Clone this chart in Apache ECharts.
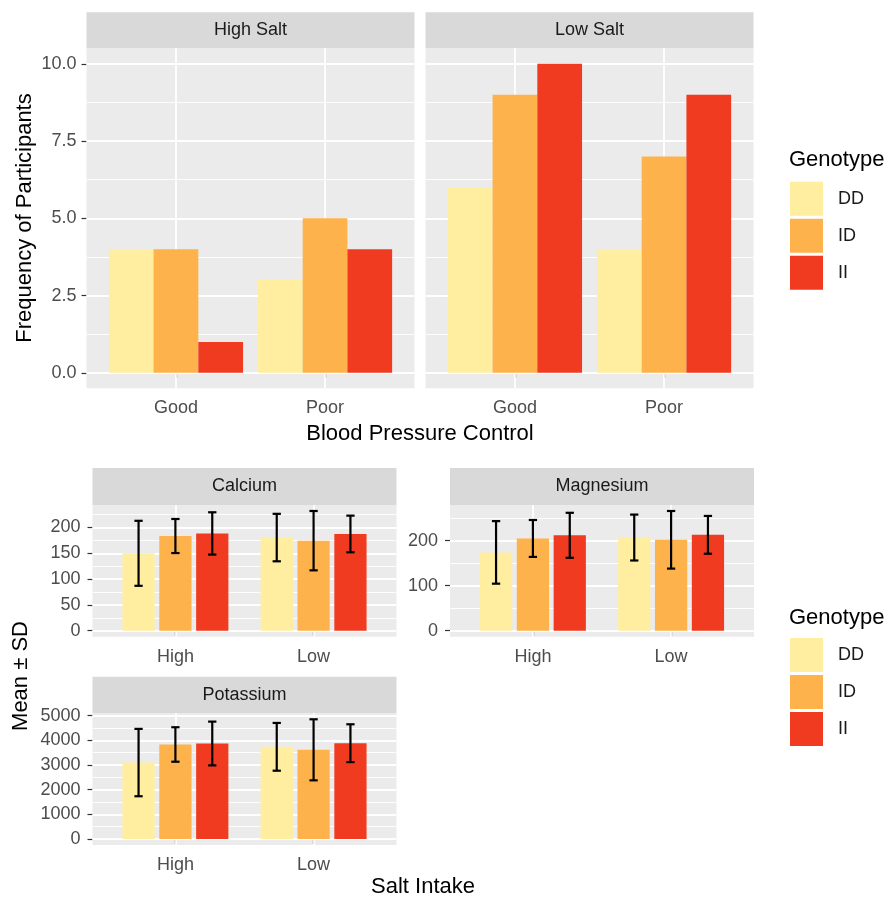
<!DOCTYPE html>
<html><head><meta charset="utf-8">
<script src="https://cdn.jsdelivr.net/npm/echarts@6/dist/echarts.min.js"></script>
<style>html,body{margin:0;padding:0;background:#fff}#c{width:894px;height:902px}</style>
</head><body><div id="c"></div>
<script>
// ---------- DATA ----------
const genotypes = ['DD', 'ID', 'II'];
const genoColors = ['#FFEDA0', '#FEB24C', '#F03B20'];

const bpCategories = ['Good', 'Poor'];
const highSaltDD = [4, 3];
const highSaltID = [4, 5];
const highSaltII = [1, 4];
const lowSaltDD = [6, 4];
const lowSaltID = [9, 7];
const lowSaltII = [10, 9];
const freqTicks = [0, 2.5, 5, 7.5, 10];
const freqMinor = [1.25, 3.75, 6.25, 8.75];

const saltCategories = ['High', 'Low'];
const calciumMeanDD = [150, 180.5];
const calciumMeanID = [183.5, 174.5];
const calciumMeanII = [188.5, 187.5];
const calciumSdDD = [63, 46];
const calciumSdID = [33, 57.5];
const calciumSdII = [41, 35.5];
const calciumTicks = [0, 50, 100, 150, 200];
const calciumMinor = [25, 75, 125, 175, 225];

const magnesiumMeanDD = [174, 207];
const magnesiumMeanID = [205, 202];
const magnesiumMeanII = [212, 213];
const magnesiumSdDD = [69.5, 51];
const magnesiumSdID = [41, 64];
const magnesiumSdII = [50, 42];
const magnesiumTicks = [0, 100, 200];
const magnesiumMinor = [50, 150, 250];

const potassiumMeanDD = [3098, 3736];
const potassiumMeanID = [3831, 3615];
const potassiumMeanII = [3871, 3884];
const potassiumSdDD = [1365, 968];
const potassiumSdID = [699, 1237];
const potassiumSdII = [887, 766];
const potassiumTicks = [0, 1000, 2000, 3000, 4000, 5000];
const potassiumMinor = [500, 1500, 2500, 3500, 4500];

// ---------- LAYOUT / STYLE ----------
const FONT = '"Liberation Sans", Arial, Helvetica, sans-serif';
const TICK_COLOR = '#4D4D4D';
const PANEL_BG = '#EBEBEB';
const STRIP_BG = '#D9D9D9';

const panels = [
  { rect: { left: 86.5, top: 48.3, width: 328, height: 340 }, strip: 'High Salt', stripTop: 12.3 },
  { rect: { left: 425.5, top: 48.3, width: 328, height: 340 }, strip: 'Low Salt', stripTop: 12.3 },
  { rect: { left: 92.5, top: 505, width: 304, height: 131.7 }, strip: 'Calcium', stripTop: 468 },
  { rect: { left: 450, top: 505, width: 304, height: 131.7 }, strip: 'Magnesium', stripTop: 468 },
  { rect: { left: 92.5, top: 713.3, width: 304, height: 131.7 }, strip: 'Potassium', stripTop: 676.7 }
];

function extentFromErr(means, sds) {
  let hi = 0;
  means.forEach((m, g) => m.forEach((v, i) => { hi = Math.max(hi, v + sds[g][i]); }));
  const pad = hi * 0.05;
  return [-pad, hi + pad];
}

const panelSpecs = [
  { cats: bpCategories, series: [highSaltDD, highSaltID, highSaltII], ticks: freqTicks, minor: freqMinor,
    ext: [-0.5, 10.5], showY: true, fmt: v => v.toFixed(1), dodge: 'wide', margin: 10 },
  { cats: bpCategories, series: [lowSaltDD, lowSaltID, lowSaltII], ticks: freqTicks, minor: freqMinor,
    ext: [-0.5, 10.5], showY: false, fmt: v => v.toFixed(1), dodge: 'wide', margin: 10 },
  { cats: saltCategories, series: [calciumMeanDD, calciumMeanID, calciumMeanII],
    sds: [calciumSdDD, calciumSdID, calciumSdII], ticks: calciumTicks, minor: calciumMinor,
    showY: true, fmt: v => String(v), dodge: 'narrow', margin: 12 },
  { cats: saltCategories, series: [magnesiumMeanDD, magnesiumMeanID, magnesiumMeanII],
    sds: [magnesiumSdDD, magnesiumSdID, magnesiumSdII], ticks: magnesiumTicks, minor: magnesiumMinor,
    showY: true, fmt: v => String(v), dodge: 'narrow', margin: 12 },
  { cats: saltCategories, series: [potassiumMeanDD, potassiumMeanID, potassiumMeanII],
    sds: [potassiumSdDD, potassiumSdID, potassiumSdII], ticks: potassiumTicks, minor: potassiumMinor,
    showY: true, fmt: v => String(v), dodge: 'narrow', margin: 12 }
];
panelSpecs.forEach(p => { if (!p.ext) p.ext = extentFromErr(p.series, p.sds); });

const grid = [], xAxis = [], yAxis = [], series = [], graphic = [];

function errRender(offsets) {
  return function (params, api) {
    const g = api.value(3);
    const x = api.value(0) + offsets[g];
    const top = api.coord([x, api.value(2)]);
    const bot = api.coord([x, api.value(1)]);
    const hw = api.size([0.03, 0])[0];
    const style = { stroke: '#000', lineWidth: 2.2 };
    return {
      type: 'group', children: [
        { type: 'line', shape: { x1: top[0], y1: top[1], x2: bot[0], y2: bot[1] }, style },
        { type: 'line', shape: { x1: top[0] - hw, y1: top[1], x2: top[0] + hw, y2: top[1] }, style },
        { type: 'line', shape: { x1: bot[0] - hw, y1: bot[1], x2: bot[0] + hw, y2: bot[1] }, style }
      ]
    };
  };
}

panelSpecs.forEach((p, i) => {
  const r = panels[i].rect;
  grid.push(Object.assign({ show: true, backgroundColor: PANEL_BG, borderWidth: 0, containLabel: false }, r));
  const catIdx = p.cats.map((c, k) => k + 1);
  xAxis.push({
    type: 'value', gridIndex: i, min: 0.4, max: 2.6,
    axisLine: { show: false },
    axisTick: { show: true, length: 5, customValues: catIdx, lineStyle: { color: '#333', width: 1.2 } },
    axisLabel: { show: true, customValues: catIdx, margin: 11, fontSize: 18, fontFamily: FONT, color: TICK_COLOR,
      formatter: v => p.cats[Math.round(v) - 1] || '' },
    splitLine: { show: false }
  });
  yAxis.push({
    type: 'value', gridIndex: i, min: p.ext[0], max: p.ext[1],
    axisLine: { show: false },
    axisTick: { show: p.showY, length: 5, customValues: p.ticks, lineStyle: { color: '#333', width: 1.2 } },
    axisLabel: { show: p.showY, customValues: p.ticks, margin: p.margin, fontSize: 18, fontFamily: FONT, color: TICK_COLOR,
      formatter: p.fmt },
    splitLine: { show: false }
  });
  const gridLines = []
    .concat(p.minor.map(v => ({ yAxis: v, lineStyle: { width: 0.9 } })))
    .concat(p.ticks.map(v => ({ yAxis: v, lineStyle: { width: 1.8 } })))
    .concat(catIdx.map(v => ({ xAxis: v, lineStyle: { width: 1.8 } })));
  // background gridlines (carried by an empty helper series so they sit behind the bars)
  series.push({
    type: 'line', xAxisIndex: i, yAxisIndex: i, data: [], z: 1, silent: true, animation: false,
    markLine: {
      silent: true, symbol: ['none', 'none'], z: 1, animation: false,
      label: { show: false }, emphasis: { disabled: true },
      lineStyle: { color: '#FFFFFF', type: 'solid', opacity: 1 },
      data: gridLines
    }
  });
  const wide = p.dodge === 'wide';
  p.series.forEach((vals, g) => {
    series.push({
      type: 'bar', name: genotypes[g], xAxisIndex: i, yAxisIndex: i,
      data: vals.map((v, k) => [k + 1, v]),
      itemStyle: { color: genoColors[g] },
      barGap: wide ? '0%' : '14.29%',
      barCategoryGap: wide ? '10%' : '23.33%',
      z: 2, silent: true, animation: false
    });
  });
  if (p.sds) {
    const rows = [];
    p.series.forEach((means, g) => means.forEach((m, k) => {
      const sd = p.sds[g][k];
      rows.push([k + 1, m - sd, m + sd, g]);
    }));
    series.push({
      type: 'custom', xAxisIndex: i, yAxisIndex: i, z: 4, silent: true, animation: false,
      renderItem: errRender([-0.26667, 0, 0.26667]),
      encode: { x: 0, y: [1, 2] },
      data: rows
    });
  }
  // strip
  const st = panels[i].stripTop;
  graphic.push({ type: 'rect', shape: { x: r.left, y: st, width: r.width, height: r.top - st }, style: { fill: STRIP_BG }, silent: true });
  graphic.push({ type: 'text', silent: true, style: { text: panels[i].strip, x: r.left + r.width / 2, y: (st + r.top) / 2,
    textAlign: 'center', textVerticalAlign: 'middle', fill: '#1A1A1A', font: '18px ' + FONT } });
});

// axis titles
graphic.push({ type: 'text', silent: true, style: { text: 'Blood Pressure Control', x: 420, y: 434, textAlign: 'center',
  textVerticalAlign: 'middle', fill: '#000', font: '22px ' + FONT } });
graphic.push({ type: 'text', silent: true, style: { text: 'Salt Intake', x: 423, y: 887, textAlign: 'center',
  textVerticalAlign: 'middle', fill: '#000', font: '22px ' + FONT } });
graphic.push({ type: 'text', silent: true, x: 25, y: 218, rotation: Math.PI / 2, style: { text: 'Frequency of Participants', x: 0, y: 0,
  textAlign: 'center', textVerticalAlign: 'middle', fill: '#000', font: '22px ' + FONT } });
graphic.push({ type: 'text', silent: true, x: 21, y: 676, rotation: Math.PI / 2, style: { text: 'Mean ± SD', x: 0, y: 0,
  textAlign: 'center', textVerticalAlign: 'middle', fill: '#000', font: '22px ' + FONT } });
// legend titles
graphic.push({ type: 'text', silent: true, style: { text: 'Genotype', x: 789, y: 160, textAlign: 'left',
  textVerticalAlign: 'middle', fill: '#000', font: '22px ' + FONT } });
graphic.push({ type: 'text', silent: true, style: { text: 'Genotype', x: 789, y: 618, textAlign: 'left',
  textVerticalAlign: 'middle', fill: '#000', font: '22px ' + FONT } });

function legendAt(top) {
  return {
    data: genotypes, orient: 'vertical', left: 790, top: top, padding: 0,
    itemWidth: 33, itemHeight: 34, itemGap: 3, icon: 'rect', selectedMode: false,
    textStyle: { fontSize: 18, fontFamily: FONT, color: '#1A1A1A', padding: [0, 0, 0, 10] }
  };
}

const chart = echarts.init(document.getElementById('c'), null, { renderer: 'canvas' });
chart.setOption({
  animation: false,
  backgroundColor: '#FFFFFF',
  grid, xAxis, yAxis, series, graphic,
  legend: [legendAt(181.7), legendAt(638)]
});
</script>
</body></html>
